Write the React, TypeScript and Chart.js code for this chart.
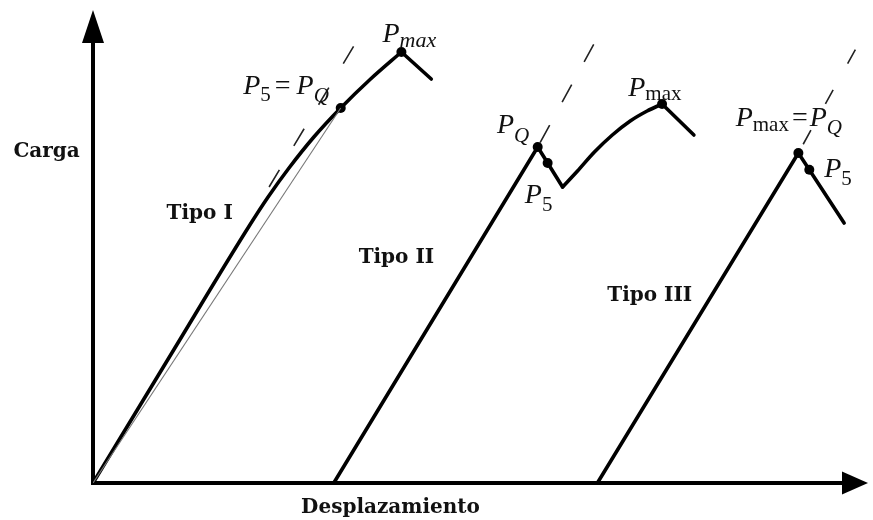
import { useEffect, useRef } from 'react';
import { Chart, registerables } from 'chart.js';

Chart.register(...registerables);

// Axis extents (arbitrary units)
const dispMax = 77.9;
const loadMax = 47.3;

// Tipo I: curve bending over before Pmax, then unloading
const tipoIDisp = [0, 7.8, 15.7, 17.6, 19.7, 22.2, 24.9, 27.9, 31.0];
const tipoILoad = [0, 12.8, 25.7, 28.6, 31.5, 34.6, 37.5, 40.4, 43.1];
const tipoIDropDisp = [31.0, 34.0];
const tipoIDropLoad = [43.1, 40.4];
const tipoISecantDisp = [0, 24.9];
const tipoISecantLoad = [0, 37.5];
const tipoITangentDisp = [17.7, 26.4];
const tipoITangentLoad = [29.6, 44.0];

// Tipo II: linear rise to PQ, pop-in drop, recovery to Pmax, unloading
const tipoIIRiseDisp = [24.2, 44.7, 45.7, 47.2];
const tipoIIRiseLoad = [0, 33.6, 32.0, 29.6];
const tipoIIRecoveryDisp = [47.2, 48.7, 50.4, 52.2, 54.0, 55.7, 57.2];
const tipoIIRecoveryLoad = [29.6, 31.2, 33.1, 34.8, 36.2, 37.2, 37.9];
const tipoIIDropDisp = [57.2, 60.4];
const tipoIIDropLoad = [37.9, 34.8];
const tipoIITangentDisp = [44.7, 50.4];
const tipoIITangentLoad = [33.6, 44.0];

// Tipo III: linear up to Pmax = PQ, then falling
const tipoIIIDisp = [50.7, 70.9, 72.0, 75.5];
const tipoIIILoad = [0, 33.0, 31.33, 26.0];
const tipoIIITangentDisp = [70.9, 77.0];
const tipoIIITangentLoad = [33.0, 44.0];

// Marked points: P5, PQ, Pmax
const markDisp = [24.9, 31.0, 44.7, 45.7, 57.2, 70.9, 72.0];
const markLoad = [37.5, 43.1, 33.6, 32.0, 37.9, 33.0, 31.33];

const toPts = (xs: number[], ys: number[]) => xs.map((x, i) => ({ x, y: ys[i] }));

type Run = { t: string; font: string; dy?: number; gap?: number };

const IT = (s: number) => `italic ${s}px "Liberation Serif", "Times New Roman", serif`;
const UP = (s: number) => `${s}px "Liberation Serif", "Times New Roman", serif`;
const BD = (s: number) => `bold ${s}px "DejaVu Serif", serif`;

// Annotations anchored at (disp, load), left/baseline
const richLabels: { x: number; y: number; runs: Run[] }[] = [
  { x: 29.1, y: 44.1, runs: [{ t: 'P', font: IT(28) }, { t: 'max', font: IT(22), dy: 5 }] },
  {
    x: 15.1, y: 38.9,
    runs: [
      { t: 'P', font: IT(28) }, { t: '5', font: UP(21), dy: 7 },
      { t: '=', font: UP(28), gap: 4 }, { t: 'P', font: IT(28), gap: 6 },
      { t: 'Q', font: IT(21), dy: 8 },
    ],
  },
  { x: 40.6, y: 35.0, runs: [{ t: 'P', font: IT(28) }, { t: 'Q', font: IT(21), dy: 9 }] },
  { x: 43.4, y: 28.0, runs: [{ t: 'P', font: IT(28) }, { t: '5', font: UP(21), dy: 8 }] },
  { x: 53.8, y: 38.7, runs: [{ t: 'P', font: IT(28) }, { t: 'max', font: UP(21), dy: 4 }] },
  {
    x: 64.6, y: 35.7,
    runs: [
      { t: 'P', font: IT(28) }, { t: 'max', font: UP(21), dy: 5 },
      { t: '=', font: UP(28), gap: 3 }, { t: 'P', font: IT(28), gap: 2 },
      { t: 'Q', font: IT(21), dy: 8 },
    ],
  },
  { x: 73.5, y: 30.6, runs: [{ t: 'P', font: IT(28) }, { t: '5', font: UP(21), dy: 8 }] },
];

const plainLabels: { x: number; y: number; t: string; align: CanvasTextAlign }[] = [
  { x: 7.4, y: 26.4, t: 'Tipo I', align: 'left' },
  { x: 26.7, y: 22.0, t: 'Tipo II', align: 'left' },
  { x: 51.7, y: 18.2, t: 'Tipo III', align: 'left' },
  { x: -8.0, y: 32.6, t: 'Carga', align: 'left' },
  { x: 29.9, y: -3.0, t: 'Desplazamiento', align: 'center' },
];

const axesPlugin = {
  id: 'arrowAxes',
  beforeDatasetsDraw(chart: any) {
    const { ctx, scales } = chart;
    const x0 = scales.x.getPixelForValue(0);
    const y0 = scales.y.getPixelForValue(0);
    const xTip = scales.x.getPixelForValue(dispMax);
    const yTip = scales.y.getPixelForValue(loadMax);
    ctx.save();
    ctx.strokeStyle = '#000';
    ctx.fillStyle = '#000';
    ctx.lineWidth = 4;
    ctx.lineJoin = 'miter';
    ctx.beginPath();
    ctx.moveTo(x0, yTip + 20);
    ctx.lineTo(x0, y0);
    ctx.lineTo(xTip - 20, y0);
    ctx.stroke();
    // arrowheads
    ctx.beginPath();
    ctx.moveTo(x0, yTip);
    ctx.lineTo(x0 - 11, yTip + 33);
    ctx.lineTo(x0 + 11, yTip + 33);
    ctx.closePath();
    ctx.fill();
    ctx.beginPath();
    ctx.moveTo(xTip, y0);
    ctx.lineTo(xTip - 26, y0 - 11.5);
    ctx.lineTo(xTip - 26, y0 + 11.5);
    ctx.closePath();
    ctx.fill();
    ctx.restore();
  },
};

const labelsPlugin = {
  id: 'curveLabels',
  afterDatasetsDraw(chart: any) {
    const { ctx, scales } = chart;
    ctx.save();
    ctx.fillStyle = '#111';
    ctx.textBaseline = 'alphabetic';
    for (const l of plainLabels) {
      ctx.font = BD(20);
      ctx.textAlign = l.align;
      ctx.fillText(l.t, scales.x.getPixelForValue(l.x), scales.y.getPixelForValue(l.y));
    }
    ctx.textAlign = 'left';
    for (const l of richLabels) {
      let px = scales.x.getPixelForValue(l.x);
      const py = scales.y.getPixelForValue(l.y);
      for (const r of l.runs) {
        px += r.gap || 0;
        ctx.font = r.font;
        ctx.fillText(r.t, px, py + (r.dy || 0));
        px += ctx.measureText(r.t).width;
      }
    }
    ctx.restore();
  },
};

export default function App() {
  const ref = useRef<HTMLCanvasElement | null>(null);

  useEffect(() => {
    if (!ref.current) return;
    const thick = { borderColor: '#000', borderWidth: 3.6, pointRadius: 0, showLine: true, clip: false as any, borderJoinStyle: 'round' as const, borderCapStyle: 'round' as const };
    const smooth = { ...thick, cubicInterpolationMode: 'monotone' as const };
    const dashed = { borderColor: '#222', borderWidth: 1.6, pointRadius: 0, showLine: true, clip: false as any };
    const chart = new Chart(ref.current, {
      type: 'scatter',
      data: {
        datasets: [
          { label: 'Secante I', data: toPts(tipoISecantDisp, tipoISecantLoad), borderColor: '#777', borderWidth: 1.1, pointRadius: 0, showLine: true },
          { label: 'Tangente I', data: toPts(tipoITangentDisp, tipoITangentLoad), ...dashed, borderDash: [20, 28] },
          { label: 'Tangente II', data: toPts(tipoIITangentDisp, tipoIITangentLoad), ...dashed, borderDash: [20, 26], borderDashOffset: 41 },
          { label: 'Tangente III', data: toPts(tipoIIITangentDisp, tipoIIITangentLoad), ...dashed, borderDash: [16, 30], borderDashOffset: 36 },
          { label: 'Tipo I', data: toPts(tipoIDisp, tipoILoad), ...smooth },
          { label: 'Tipo I descarga', data: toPts(tipoIDropDisp, tipoIDropLoad), ...thick },
          { label: 'Tipo II', data: toPts(tipoIIRiseDisp, tipoIIRiseLoad), ...thick },
          { label: 'Tipo II recuperación', data: toPts(tipoIIRecoveryDisp, tipoIIRecoveryLoad), ...smooth },
          { label: 'Tipo II descarga', data: toPts(tipoIIDropDisp, tipoIIDropLoad), ...thick },
          { label: 'Tipo III', data: toPts(tipoIIIDisp, tipoIIILoad), ...thick },
          { label: 'Puntos', data: toPts(markDisp, markLoad), showLine: false, pointRadius: 5, pointBackgroundColor: '#000', pointBorderColor: '#000', pointBorderWidth: 0, clip: false as any },
        ],
      },
      options: {
        animation: false,
        responsive: false,
        maintainAspectRatio: false,
        layout: { padding: { left: 93, right: 1, top: 10, bottom: 37 } },
        scales: {
          x: { type: 'linear', min: 0, max: dispMax, display: false },
          y: { type: 'linear', min: 0, max: loadMax, display: false },
        },
        plugins: { legend: { display: false }, tooltip: { enabled: false } },
        events: [],
      },
      plugins: [axesPlugin, labelsPlugin],
    });
    return () => chart.destroy();
  }, []);

  return (
    <div style={{ position: 'fixed', left: 0, top: 0, width: 873, height: 520, background: '#fff' }}>
      <canvas ref={ref} width={873} height={520} style={{ display: 'block', width: 873, height: 520 }} />
    </div>
  );
}
